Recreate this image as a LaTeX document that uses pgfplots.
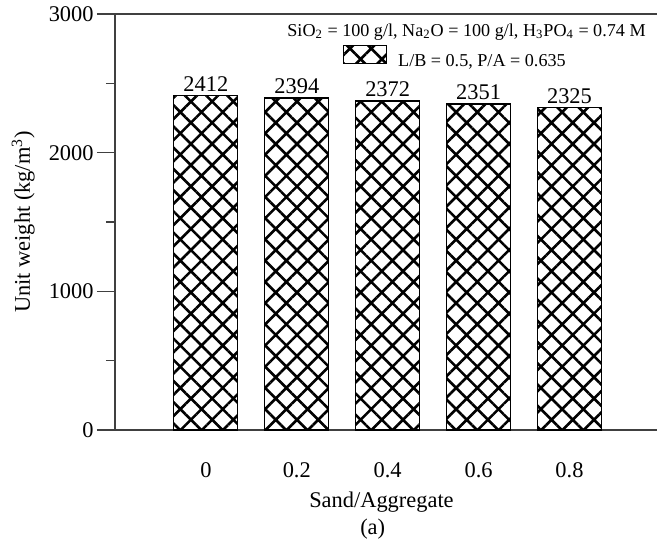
\documentclass[border=0pt]{standalone}
\usepackage{fontspec}
\setmainfont{Liberation Serif}
\usepackage{pgfplots}
\pgfplotsset{compat=1.18}
\usetikzlibrary{patterns.meta}

\begin{document}
\begin{tikzpicture}[font=\fontsize{11.25}{13.5}\selectfont]
  \begin{axis}[
    scale only axis, width=272.7bp, height=208bp,
    at={(0,0)}, anchor=south west, clip=false,
    xmin=-1, xmax=5, ymin=0, ymax=3000,
    xtick={0,1,2,3,4}, xticklabels={0,0.2,0.4,0.6,0.8},
    ytick={0,1000,2000,3000}, minor y tick num=1,
    ytick pos=left, tick align=outside,
    major tick length=9bp, minor tick length=4.5bp,
    x tick style={draw=none},
    y tick style={black!75, line width=0.6bp},
    axis line style={black!75, line width=0.6bp},
    /pgf/number format/1000 sep={},
    /pgf/number format/assume math mode=true,
    yticklabel style={anchor=east, inner sep=0pt, xshift=-1.5bp},
    xticklabel style={anchor=north, inner sep=0pt, yshift=-7bp},
    xlabel={Sand/Aggregate},
    xlabel style={at={([yshift=-38.5bp]axis description cs:0.4886,0)}, anchor=base, inner sep=0pt},
    ylabel={Unit weight (kg/m\textsuperscript{3})},
    ylabel style={at={([xshift=-42.5bp]axis description cs:0,0.5)}, anchor=base, inner sep=0pt},
    legend style={at={(axis description cs:0.418,0.8963)}, anchor=west, draw=none, fill=none,
      inner sep=0pt, outer sep=0pt, nodes={inner sep=0pt}, font=\fontsize{9.1}{11}\selectfont,
      /tikz/every odd column/.append style={column sep=5.5bp}},
    nodes near coords,
    every node near coord/.append style={anchor=south, inner sep=0pt, yshift=1.8bp, black},
  ]
    \addplot[ybar, bar width=32bp, draw=black, line width=0.6bp,
      pattern={Hatch[angle=45, distance=7.5bp, line width=1.3bp]},
      legend image code/.code={\draw[##1] (0bp,-0.85bp) rectangle (21.5bp,8.15bp);}]
      coordinates {(0,2412) (1,2394) (2,2372) (3,2351) (4,2325)};
    \addlegendentry{L/B = 0.5, P/A = 0.635}
    \node[anchor=base west, inner sep=0pt, font=\fontsize{9.1}{11}\selectfont] at (axis description cs:0.3154,0.9454)
      {SiO\textsubscript{2} = 100 g/l, Na\textsubscript{2}O = 100 g/l, H\textsubscript{3}PO\textsubscript{4} = 0.74 M};
    \node[anchor=base, inner sep=0pt] at ([yshift=-52bp]axis description cs:0.4725,0) {(a)};
    \coordinate (O) at (axis description cs:0,0);
  \end{axis}
  \pgfresetboundingbox
  \path[use as bounding box] ([shift={(-57.5bp,-58.5bp)}]O) rectangle ([shift={(271bp,215bp)}]O);
\end{tikzpicture}
\end{document}
